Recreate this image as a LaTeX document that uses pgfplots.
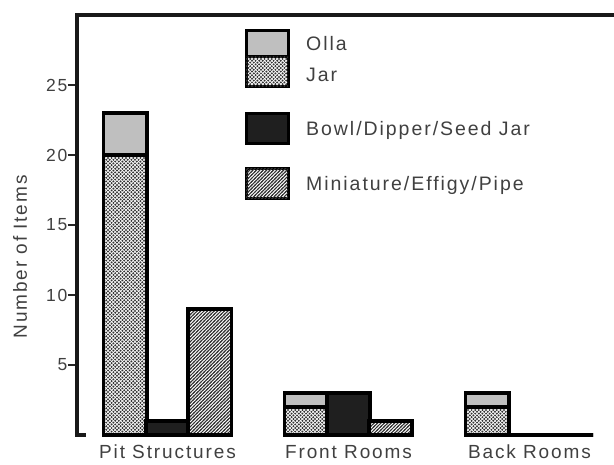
\documentclass[border=0pt]{standalone}
\usepackage{fontspec}
\setmainfont{Liberation Sans}[LetterSpace=10]
\usepackage{pgfplots}
\pgfplotsset{compat=1.18}
\usetikzlibrary{patterns}
\definecolor{olla}{gray}{0.75}
\definecolor{txt}{gray}{0.25}
% dense dot screen for Jar
\pgfdeclarepatternformonly{jardots}{\pgfqpoint{-1.2pt}{-1.2pt}}{\pgfqpoint{5pt}{5pt}}{\pgfqpoint{3.6pt}{3.6pt}}{%
  \pgfpathcircle{\pgfqpoint{0pt}{0pt}}{1.1pt}%
  \pgfpathcircle{\pgfqpoint{1.8pt}{1.8pt}}{1.1pt}%
  \pgfusepath{fill}}
% heavy diagonal hatch for Miniature
\pgfdeclarepatternformonly{hatch}{\pgfqpoint{-1pt}{-1pt}}{\pgfqpoint{4.4pt}{4.4pt}}{\pgfqpoint{3.4pt}{3.4pt}}{%
  \pgfsetlinewidth{1pt}%
  \pgfpathmoveto{\pgfqpoint{-1pt}{-1pt}}\pgfpathlineto{\pgfqpoint{4.4pt}{4.4pt}}%
  \pgfusepath{stroke}}
\begin{document}
\begin{tikzpicture}[x=1pt,y=1pt]
\begin{axis}[
  scale only axis, width=537pt, height=420pt,
  at={(0,0)}, anchor=south west,
  xmin=-0.5, xmax=2.467, ymin=0, ymax=30,
  axis line style={draw=none},
  xtick={0,1,2},
  xticklabels={Pit Structures, Front Rooms, Back Rooms},
  xtick style={draw=none},
  xticklabel style={font=\fontsize{19}{19}\selectfont, text=txt, yshift=2.5pt},
  ytick={5,10,15,20,25},
  tick align=outside, major tick length=9pt,
  ytick style={line width=2pt, black!85},
  yticklabel style={font=\fontsize{17.5}{17.5}\selectfont, text=txt, inner sep=0.5pt},
  /pgf/number format/assume math mode=true,
  ylabel={Number of Items},
  every axis y label/.style={at={(rel axis cs:0,0.424)}, rotate=90, anchor=center, yshift=57pt,
    font=\fontsize{19}{19}\selectfont, text=txt},
  bar width=0.238,
  clip=false,
]
% Olla (drawn as Jar+Olla total), Jar overlaid
\addplot[ybar, bar shift=-0.233, fill=olla, draw=black, line width=3.4pt] coordinates {(0,23) (1,3) (2,3)};
\addplot[ybar, bar shift=-0.233, fill=white, draw=black, line width=3.4pt,
  postaction={pattern=jardots, pattern color=black!80}] coordinates {(0,20) (1,2) (2,2)};
% Bowl/Dipper/Seed Jar
\addplot[ybar, bar shift=0, fill=black!88, draw=black, line width=3.4pt] coordinates {(0,1) (1,3) (2,0)};
% Miniature/Effigy/Pipe
\addplot[ybar, bar shift=0.233, fill=white, draw=black, line width=3.4pt,
  postaction={pattern=hatch, pattern color=black!80}] coordinates {(0,9) (1,1) (2,0)};
\end{axis}
% frame
\draw[line width=4.5pt, black!90] (9,0) -- (0,0) -- (0,420) -- (537,420);
% legend
\draw[line width=3pt, fill=olla] (169,378) rectangle (211,404);
\draw[line width=3pt, fill=white, postaction={pattern=jardots, pattern color=black!80}] (169,348) rectangle (211,378);
\draw[line width=3pt, fill=black!88] (169,291) rectangle (211,321);
\draw[line width=3pt, fill=white, postaction={pattern=hatch, pattern color=black!80}] (169,236) rectangle (211,266);
\begin{scope}[every node/.style={anchor=west, font=\fontsize{19.5}{19.5}\selectfont, text=txt, inner sep=0pt}]
\node at (229,391) {Olla};
\node at (229,360) {Jar};
\node at (229,305) {Bowl/Dipper/Seed Jar};
\node at (229,250) {Miniature/Effigy/Pipe};
\end{scope}
\pgfresetboundingbox
\path (-77,-29) rectangle (537,435);
\end{tikzpicture}
\end{document}
